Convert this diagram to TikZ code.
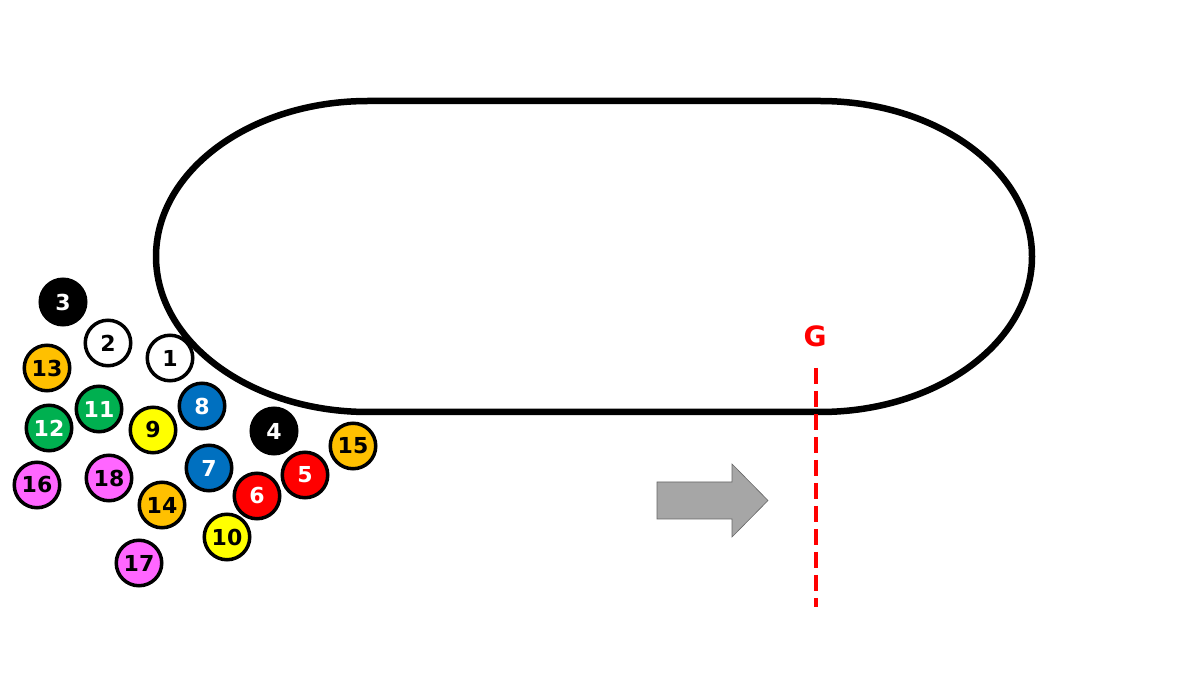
\documentclass[tikz,border=0pt]{standalone}
\usepackage{fontspec}
\setmainfont{DejaVu Sans}
\definecolor{cOrange}{HTML}{FFC000}
\definecolor{cGreen}{HTML}{00B050}
\definecolor{cBlue}{HTML}{0070C0}
\definecolor{cRed}{HTML}{FF0000}
\definecolor{cYellow}{HTML}{FFFF00}
\definecolor{cPink}{HTML}{FF66FF}
\definecolor{cGray}{HTML}{A6A6A6}
\begin{document}
\begin{tikzpicture}[x=1pt,y=1pt,
  horse/.style={circle,draw=black,line width=3.5pt,minimum size=45.5pt,inner sep=0pt,
    font=\fontsize{22}{22}\selectfont\bfseries},
  track/.style={draw=black,line width=6.5pt},
  goal/.style={draw=cRed,line width=4.5pt,dash pattern=on 16pt off 7pt}]
\useasboundingbox (0,0) rectangle (1200,675);
\fill[white] (0,0) rectangle (1200,675);
% track
\draw[track] (368,574) -- (820,574)
  arc[start angle=90,end angle=-90,x radius=212pt,y radius=155.5pt]
  -- (368,263)
  arc[start angle=270,end angle=90,x radius=212pt,y radius=155.5pt] -- cycle;
% horses
\node[horse,fill=black,text=white] (c3) at (63,373) {3};
\node[horse,fill=white,text=black] (c2) at (108,332) {2};
\node[horse,fill=white,text=black] (c1) at (170,317) {1};
\node[horse,fill=cOrange,text=black] (c13) at (47,307) {13};
\node[horse,fill=cGreen,text=white] (c11) at (99,266) {11};
\node[horse,fill=cBlue,text=white] (c8) at (202,269) {8};
\node[horse,fill=cGreen,text=white] (c12) at (49,247) {12};
\node[horse,fill=cYellow,text=black] (c9) at (153,245) {9};
\node[horse,fill=black,text=white] (c4) at (274,244) {4};
\node[horse,fill=cOrange,text=black] (c15) at (353,229) {15};
\node[horse,fill=cPink,text=black] (c16) at (37,190) {16};
\node[horse,fill=cPink,text=black] (c18) at (109,197) {18};
\node[horse,fill=cBlue,text=white] (c7) at (209,207) {7};
\node[horse,fill=cRed,text=white] (c5) at (305,200) {5};
\node[horse,fill=cRed,text=white] (c6) at (257,179) {6};
\node[horse,fill=cOrange,text=black] (c14) at (162,170) {14};
\node[horse,fill=cYellow,text=black] (c10) at (227,138) {10};
\node[horse,fill=cPink,text=black] (c17) at (139,112) {17};
% direction arrow
\filldraw[fill=cGray,draw=gray!80!black,line width=0.6pt]
  (657,193) -- (732,193) -- (732,211) -- (768,174.5) -- (732,138) -- (732,156) -- (657,156) -- cycle;
% goal
\node[text=cRed,font=\fontsize{28}{28}\selectfont\bfseries] (G) at (815,339) {G};
\coordinate (gtop) at (816,307);
\coordinate (gbot) at (816,68);
\draw[goal] (gtop) -- (gbot);
\end{tikzpicture}
\end{document}
